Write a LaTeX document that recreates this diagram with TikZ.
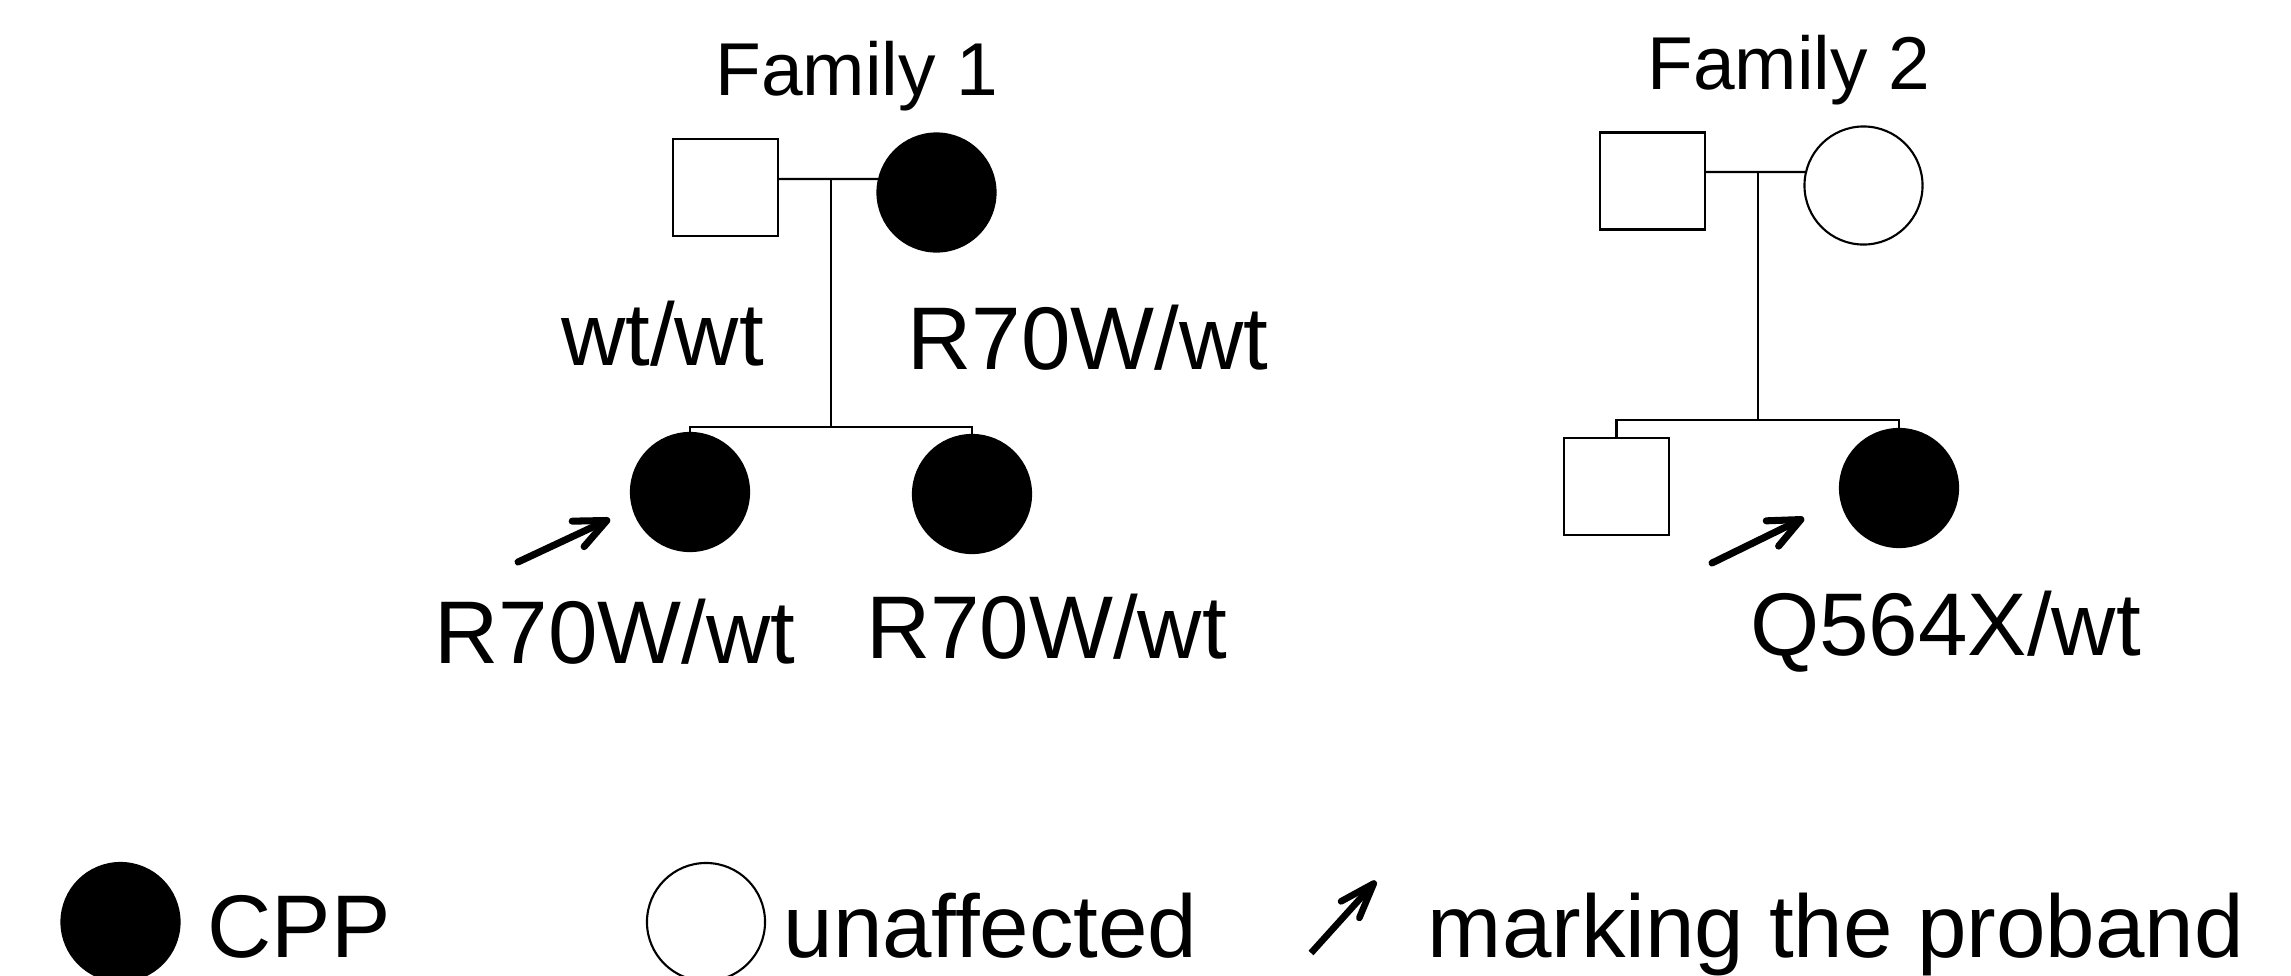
\documentclass[tikz,border=0pt]{standalone}
\usepackage{fontspec}
\setmainfont{Liberation Sans}
\usetikzlibrary{arrows.meta}
\begin{document}
\begin{tikzpicture}[x=0.01cm,y=-0.01cm,
  line width=0.6pt,
  male/.style={draw, rectangle, minimum width=1.05cm, minimum height=0.97cm, inner sep=0pt},
  female/.style={draw, circle, minimum size=1.18cm, inner sep=0pt},
  affected/.style={fill=black},
  genotype/.style={inner sep=0pt, anchor=base, font=\fontsize{25.3pt}{30pt}\selectfont},
  famtitle/.style={inner sep=0pt, anchor=base, font=\fontsize{21.3pt}{26pt}\selectfont},
  proband/.style={line width=2pt, line cap=round, -{Straight Barb[length=9pt,width=8pt,round]}},
]
\clip (0,0) rectangle (2291,975);

% ---------- Family 1 ----------
\node[famtitle] (t1) at (857,95) {Family 1};
\node[male] (f1m) at (725.5,187.5) {};
\node[female,affected] (f1f) at (936.5,192.5) {};
\coordinate (f1mate) at (831,179);
\coordinate (f1sib) at (831,427);
\node[female,affected] (f1c1) at (690,492) {};
\node[female,affected] (f1c2) at (972,494) {};
\draw (f1m.east |- f1mate) -- (f1f.167);
\draw (f1mate) -- (f1sib);
\draw (f1c1.north) -- (f1c1.north |- f1sib) -- (f1c2.north |- f1sib) -- (f1c2.north);

\node[genotype] (g1f) at (662.5,365) {wt/wt};
\node[genotype] (g1m) at (1088,369) {R70W/wt};
\node[genotype] (g1c1) at (615,663) {R70W/wt};
\node[genotype] (g1c2) at (1046.5,658) {R70W/wt};

\coordinate (p1s) at (518,562);
\coordinate (p1e) at (610,519);
\draw[proband] (p1s) -- (p1e);

% ---------- Family 2 ----------
\node[famtitle] (t2) at (1789,89) {Family 2};
\node[male] (f2m) at (1652.5,181) {};
\node[female] (f2f) at (1863.5,185.5) {};
\coordinate (f2mate) at (1758,172);
\coordinate (f2sib) at (1758,420);
\node[male] (f2c1) at (1616.5,486.5) {};
\node[female,affected] (f2c2) at (1899,488) {};
\draw (f2m.east |- f2mate) -- (f2f.167);
\draw (f2mate) -- (f2sib);
\draw (f2c1.north) -- (f2c1.north |- f2sib) -- (f2c2.north |- f2sib) -- (f2c2.north);

\node[genotype] (g2c2) at (1945.5,655) {Q564X/wt};

\coordinate (p2s) at (1712,563);
\coordinate (p2e) at (1804,518);
\draw[proband] (p2s) -- (p2e);

% ---------- Legend ----------
\node[female,affected] (k1) at (120.5,922) {};
\node[genotype] (k1t) at (299,957) {CPP};
\node[female] (k2) at (706,922) {};
\node[genotype] (k2t) at (990.5,957) {unaffected};
\coordinate (k3s) at (1311,953);
\coordinate (k3e) at (1376,881);
\draw[line width=1.9pt, -{Straight Barb[length=10pt,width=7pt,round]}] (k3s) -- (k3e);
\node[genotype] (k3t) at (1836,957) {marking the proband};
\end{tikzpicture}
\end{document}
